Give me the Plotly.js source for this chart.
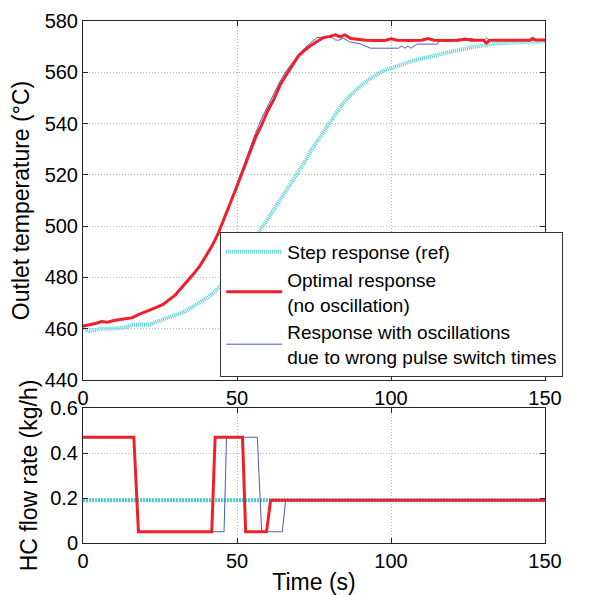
<!DOCTYPE html>
<html>
<head>
<meta charset="utf-8">
<script src="https://cdn.plot.ly/plotly-3.0.1.min.js"></script>
<style>html,body{margin:0;padding:0;background:#fff;}#chart{width:589px;height:595px;}</style>
</head>
<body>
<div id="chart"></div>
<script>
// ---- Top panel: outlet temperature (°C) vs time (s) ----
const stepTime = [0,2,4,6,8,10,12,14,16,18,20,22,24,26,28,30,32,34,36,38,40,42,44,46,48,50,52,54,56,58,60,62,64,66,68,70,72,74,76,78,80,82,84,86,88,90,92,94,96,98,100,103,106,110,114,118,122,126,130,134,138,142,146,150];
const stepTemp = [460,459.2,459.5,460,460,460,460.2,460.5,461.5,461.6,461.6,461.7,462.8,463.6,464.5,465.3,466.1,467.4,468.8,470.2,471.8,473.6,476,479,482,485,488.5,492,495.5,499.5,503,506.5,510.2,514,517.5,521,525,529.5,533,537,540.5,544,547.2,550,552.5,554.6,556.5,558.2,559.6,560.8,561.7,563,564,565.4,566.6,567.7,568.7,569.7,570.6,571.2,571.5,571.8,571.9,572];

const optTime = [0,2,4,6,8,10,12,14,16,18,20,22,24,26,28,30,32,34,36,38,40,42,44,46,48,50,52,54,56,58,60,62,64,66,68,70,72,74,76,78,80,82,83.5,85,87,90,92,95,98,100,102,106,110,112,114,118,122,124,126,130,131,132,136,140,145,146,147,150];
const optTemp = [461,461.5,462,462.8,462.5,463.2,463.6,463.8,464.3,465.5,466.4,467.4,468.4,469.5,471.2,473.2,476,478.6,481.5,484.6,488.6,492.5,497.5,503.2,509.5,515.6,522,528.5,534.5,539.5,545,549.5,555,559,563,566.5,568.6,570.5,572,573.5,574,574.6,573.8,574.6,573.2,572.6,572.5,572.4,572.4,573.1,572.5,572.4,572.5,573.2,572.5,572.4,572.5,573,572.5,572.5,571.4,572.5,572.6,572.5,572.5,573.2,572.6,572.6];

const oscTime = [0,2,4,6,8,10,12,14,16,18,20,22,24,26,28,30,32,34,36,38,40,42,44,46,48,50,52,54,56,58,60,62,64,66,68,70,72,74,76,79,81,82,83,84.5,86.5,90,93.3,102.5,103.5,104.5,105.5,106.5,108.4,115,116,120,122,124,126,128,130,131,132,150];
const oscTemp = [460.8,461.3,461.8,462.5,462.6,463,463.4,463.7,464,465.2,466.2,467.2,468.2,469.4,471,473,475.6,478.3,481.2,484.4,488.4,492.6,497.8,503.6,510,516.4,523,529.8,536.2,542,547,551.5,556.5,560.5,564,567,569.5,571.6,573.6,573.6,573.5,572.6,572.5,573.3,571.9,571.1,569.4,569.4,570.2,569.4,570.2,569.4,571,571,572.6,572.6,573,572.4,573.2,572.5,572.5,573.3,572.5,572.6];

// ---- Bottom panel: HC flow rate (kg/h) vs time (s) ----
const stepFlowTime = [0,150];
const stepFlow = [0.19,0.19];
const optFlowTime = [0,16.5,18,41.8,42.9,51.8,52.8,59.6,60.9,150];
const optFlow = [0.47,0.47,0.05,0.05,0.47,0.47,0.05,0.05,0.19,0.19];
const oscFlowTime = [0,16.5,18,45.8,46.6,56.6,58,64.7,65.8,150];
const oscFlow = [0.47,0.47,0.05,0.05,0.47,0.47,0.05,0.05,0.19,0.19];

const seriesNames = ['Step response (ref)','Optimal response<br>(no oscillation)','Response with oscillations<br>due to wrong pulse switch times'];
const xTicks = [0,50,100,150];
const yTicksTop = [440,460,480,500,520,540,560,580];
const yTicksBottom = [0,0.2,0.4,0.6];

const cyan = 'rgb(80,205,210)';
const red = '#f0202a';
const blue = '#4a5cb8';
const FONT = 'Liberation Sans, Arial, Helvetica, sans-serif';

const data = [
  {x: stepTime, y: stepTemp, xaxis:'x', yaxis:'y', mode:'lines', name: seriesNames[0], legendrank:1,
   line:{color:cyan, width:4, dash:'1px,1px'}},
  {x: oscTime, y: oscTemp, xaxis:'x', yaxis:'y', mode:'lines', name: seriesNames[2], legendrank:3,
   line:{color:blue, width:1}},
  {x: optTime, y: optTemp, xaxis:'x', yaxis:'y', mode:'lines', name: seriesNames[1], legendrank:2,
   line:{color:red, width:3}},
  {x: stepFlowTime, y: stepFlow, xaxis:'x2', yaxis:'y2', mode:'lines', showlegend:false,
   line:{color:cyan, width:4, dash:'2px,1px'}},
  {x: oscFlowTime, y: oscFlow, xaxis:'x2', yaxis:'y2', mode:'lines', showlegend:false,
   line:{color:blue, width:1}},
  {x: optFlowTime, y: optFlow, xaxis:'x2', yaxis:'y2', mode:'lines', showlegend:false,
   line:{color:red, width:3}}
];

const axCommon = {
  showline:true, linecolor:'#262626', linewidth:1, mirror:'ticks',
  ticks:'inside', ticklen:5, tickcolor:'#262626', tickwidth:1,
  showgrid:true, gridcolor:'#b4b4b4', griddash:'1px,2px', gridwidth:1,
  zeroline:false, tickfont:{family:FONT, size:20, color:'#000'}
};
const titleFont = {family:FONT, size:23, color:'#000'};

const layout = {
  width:589, height:595,
  margin:{l:83, r:44, t:21, b:52},
  paper_bgcolor:'#fff', plot_bgcolor:'#fff',
  font:{family:FONT, color:'#000'},
  showlegend:true,
  legend:{x:0.297, xanchor:'left', y:0.596, yanchor:'top', bgcolor:'#fff',
    bordercolor:'#333', borderwidth:1, font:{family:FONT, size:19, color:'#000'},
    itemwidth:56, tracegroupgap:0},
  xaxis: Object.assign({}, axCommon, {domain:[0,1], range:[0,150], tickvals:xTicks, anchor:'y'}),
  yaxis: Object.assign({}, axCommon, {domain:[0.3123,1], range:[440,580], tickvals:yTicksTop, anchor:'x',
    title:{text:'Outlet temperature (°C)', font:titleFont, standoff:8}}),
  xaxis2: Object.assign({}, axCommon, {domain:[0,1], range:[0,150], tickvals:xTicks, anchor:'y2',
    title:{text:'Time (s)', font:titleFont, standoff:11}}),
  yaxis2: Object.assign({}, axCommon, {domain:[0,0.2586], range:[0,0.6], tickvals:yTicksBottom, anchor:'x2',
    ticktext:['0','0.2','0.4','0.6'], tickmode:'array',
    title:{text:'HC flow rate (kg/h)', font:titleFont, standoff:6}})
};

Plotly.newPlot('chart', data, layout, {displayModeBar:false, staticPlot:true});
</script>
</body>
</html>
